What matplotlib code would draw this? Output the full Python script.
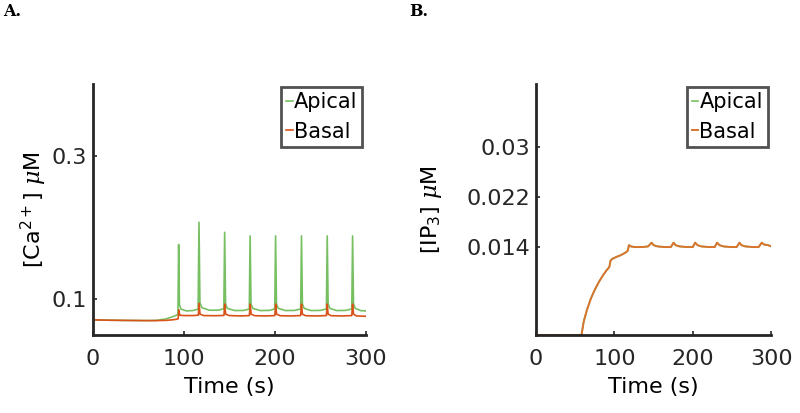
import matplotlib
matplotlib.use("Agg")
import matplotlib.pyplot as plt
import numpy as np

plt.rcParams['font.family'] = ['DejaVu Sans']
plt.rcParams['mathtext.fontset'] = 'custom'
plt.rcParams['mathtext.rm'] = 'DejaVu Sans'
plt.rcParams['mathtext.it'] = 'DejaVu Serif:italic'

# --- panel A: Ca2+ (uM) ---
ca_apical_t = [0, 20, 40, 60, 70, 80, 87, 92, 93.6, 94.4, 95.3, 97, 103, 110, 115.8, 116.8, 117.8, 120,
               128, 138, 144.1, 145, 146, 148, 156, 166, 172.1, 173, 174, 176, 184, 194, 200.1, 201,
               202, 204, 212, 222, 228.6, 229.5, 230.5, 232.5, 240, 250, 256.9, 257.8, 258.8, 260.8,
               268, 278, 284.8, 285.7, 286.7, 288.7, 295, 300]
ca_apical = [0.071, 0.0705, 0.0702, 0.0700, 0.0703, 0.0722, 0.0750, 0.0775, 0.0790, 0.176, 0.092, 0.086,
             0.0835, 0.0840, 0.0860, 0.207, 0.095, 0.088, 0.0845, 0.0845, 0.0865, 0.193, 0.093, 0.087,
             0.0840, 0.0842, 0.0862, 0.188, 0.093, 0.087, 0.0840, 0.0842, 0.0862, 0.188, 0.093, 0.087,
             0.0840, 0.0842, 0.0862, 0.188, 0.093, 0.087, 0.0840, 0.0842, 0.0862, 0.188, 0.093, 0.087,
             0.0840, 0.0842, 0.0862, 0.188, 0.093, 0.087, 0.0838, 0.0835]

ca_basal_t = [0, 20, 40, 60, 70, 80, 87, 92, 93.8, 94.6, 95.6, 100, 110, 116, 116.9, 117.9, 122, 135,
              144.2, 145.1, 146.1, 150, 163, 172.2, 173.1, 174.1, 178, 190, 200.2, 201.1, 202.1, 206,
              218, 228.6, 229.5, 230.5, 234, 246, 256.9, 257.8, 258.8, 262, 275, 284.8, 285.7, 286.7,
              290, 300]
ca_basal = [0.071, 0.0705, 0.0702, 0.0700, 0.0700, 0.0703, 0.0710, 0.0718, 0.0725, 0.085, 0.0775,
            0.0770, 0.0770, 0.0775, 0.094, 0.079, 0.0770, 0.0768, 0.0772, 0.093, 0.079, 0.0770, 0.0765,
            0.0770, 0.093, 0.079, 0.0768, 0.0765, 0.0770, 0.093, 0.079, 0.0768, 0.0765, 0.0770, 0.093,
            0.079, 0.0768, 0.0765, 0.0770, 0.093, 0.079, 0.0768, 0.0765, 0.0770, 0.093, 0.079, 0.0765,
            0.0760]

# --- panel B: IP3 (uM), apical and basal overlap ---
ip3_t = [0, 58, 61, 65, 70, 75, 80, 86, 90, 93.5, 95, 97, 102, 108, 114, 117, 118.5, 121, 126, 135,
         143, 147.5, 150, 155, 165, 172, 175.5, 178, 183, 193, 200, 203, 206, 211, 221, 228, 231, 234,
         239, 249, 256, 259.5, 262, 267, 277, 284, 288, 291, 296, 300]
ip3_apical = [0, 0, 0.0022, 0.0040, 0.0058, 0.0072, 0.0084, 0.0096, 0.0103, 0.0108, 0.0118, 0.0121,
              0.0124, 0.0127, 0.0131, 0.0134, 0.0143, 0.0141, 0.0140, 0.0140, 0.0141, 0.0147, 0.0143,
              0.0141, 0.0140, 0.0140, 0.0147, 0.0143, 0.0141, 0.0140, 0.0140, 0.0147, 0.0143, 0.0141,
              0.0140, 0.0140, 0.0147, 0.0143, 0.0141, 0.0140, 0.0140, 0.0147, 0.0143, 0.0141, 0.0140,
              0.0140, 0.0147, 0.0144, 0.0143, 0.0141]
ip3_basal = list(ip3_apical)

green = '#77C062'
red = '#D95319'
orange = '#D9742E'
dark = '#262626'
fs = 16

fig = plt.figure(figsize=(8, 4.13), dpi=100)
axA = fig.add_axes([0.116, 0.189, 0.341, 0.608])
axB = fig.add_axes([0.670, 0.189, 0.294, 0.608])

axA.plot(ca_apical_t, ca_apical, color=green, lw=1.2, label='Apical')
axA.plot(ca_basal_t, ca_basal, color=red, lw=1.2, label='Basal')
axA.set_ylim(0.05, 0.4)
axA.set_yticks([0.1, 0.3])
axA.set_yticklabels(['0.1', '0.3'])
axA.set_ylabel(r'[Ca$^{\mathrm{2+}}$] $\mu$M', fontsize=fs, labelpad=2)

axB.plot(ip3_t, ip3_apical, color=green, lw=1.2, label='Apical')
axB.plot(ip3_t, ip3_basal, color=orange, lw=1.4, label='Basal')
axB.set_ylim(0, 0.04)
axB.set_yticks([0.014, 0.022, 0.03])
axB.set_yticklabels(['0.014', '0.022', '0.03'])
axB.set_ylabel(r'[IP$_{\mathrm{3}}$] $\mu$M', fontsize=fs, labelpad=16)

for ax in (axA, axB):
    ax.set_xlim(0, 300)
    ax.set_xticks([0, 100, 200, 300])
    ax.set_xlabel('Time (s)', fontsize=fs, labelpad=6)
    for s in ('top', 'right'):
        ax.spines[s].set_visible(False)
    for s in ('left', 'bottom'):
        ax.spines[s].set_linewidth(2)
        ax.spines[s].set_color(dark)
    ax.tick_params(direction='in', length=3, width=1.2, colors=dark, labelsize=fs)
    ax.tick_params(axis='x', pad=10)
    ax.tick_params(axis='y', pad=4)
    leg = ax.legend(loc='upper right', bbox_to_anchor=(1.0, 1.0), fontsize=15, frameon=True,
                    fancybox=False, handlelength=0.3, handletextpad=0.05, borderpad=0.25,
                    labelspacing=0.45, borderaxespad=0.15)
    leg.get_frame().set_edgecolor(dark)
    leg.get_frame().set_linewidth(2)

fig.text(0.004, 0.971, 'A.', family='DejaVu Serif', weight='bold', fontsize=11.5, va='center')
fig.text(0.512, 0.971, 'B.', family='DejaVu Serif', weight='bold', fontsize=11.5, va='center')

fig.savefig('out.png', dpi=100)
